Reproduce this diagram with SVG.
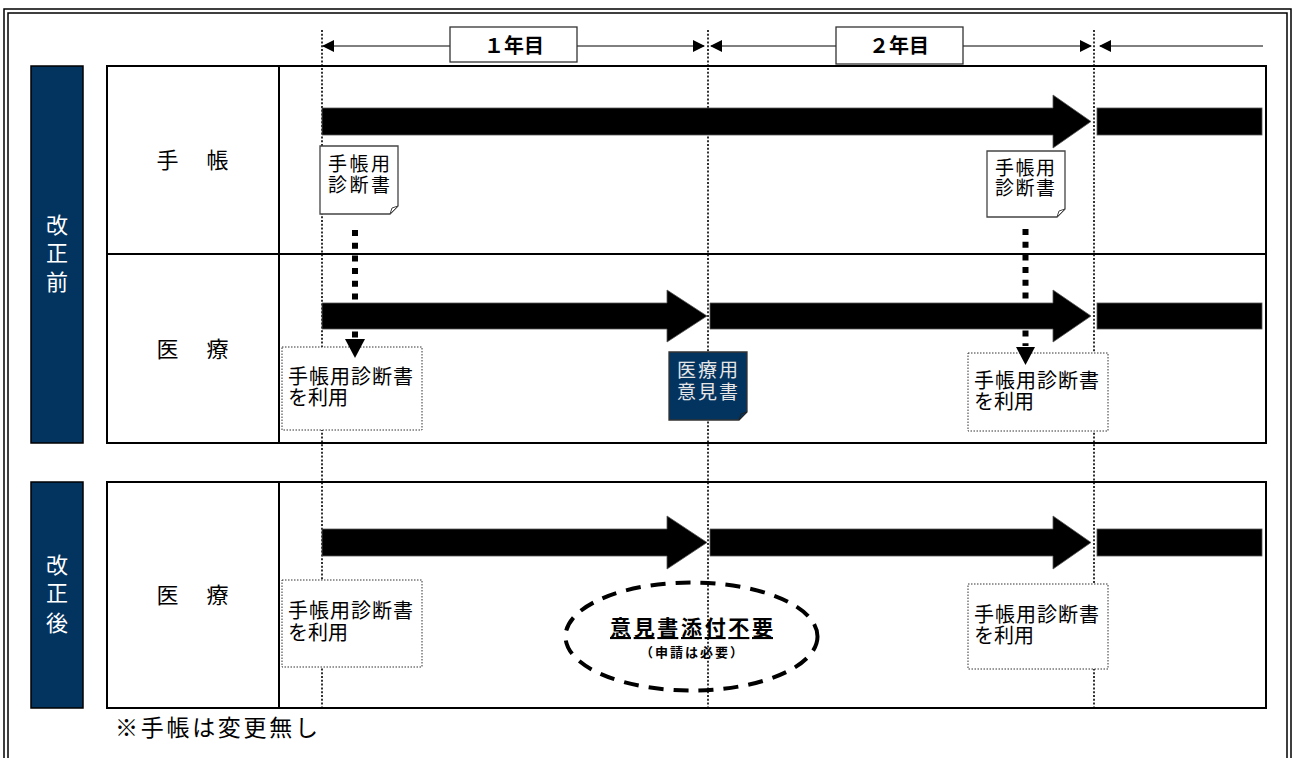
<svg xmlns="http://www.w3.org/2000/svg" width="1293" height="758" viewBox="0 0 1293 758">
<style>
text{font-family:"Noto Sans CJK JP","Noto Sans",sans-serif;fill:#000}
.frame{fill:none;stroke:#000;stroke-width:1.5}
.tbl{fill:#fff;stroke:#000;stroke-width:2}
.div{stroke:#000;stroke-width:2}
.navy{fill:#03335f;stroke:#000;stroke-width:1.5}
.vlab{font-size:22px;fill:#fff}
.rlab{font-size:22px;letter-spacing:3px}
.yr{fill:#fff;stroke:#333;stroke-width:1.3}
.yrt{font-size:20px;font-weight:bold}
.tl{stroke:#000;stroke-width:1}
.vdot{stroke:#000;stroke-width:1.6;stroke-dasharray:2 1.8;fill:none}
.bar{fill:#000;stroke:#555;stroke-width:0.8}
.doc{fill:#fff;stroke:#444;stroke-width:1.3}
.ddoc{fill:#03335f;stroke:#333;stroke-width:1.3}
.dt{font-size:19px}
.dtw{font-size:19px;fill:#e6e6e6}
.dbox{fill:#fff;stroke:#333;stroke-width:1;stroke-dasharray:1.5 1.5}
.bt{font-size:20px}
.sq{stroke:#000;stroke-width:6;stroke-dasharray:6 6.7;fill:none}
.ell{fill:none;stroke:#000;stroke-width:4;stroke-dasharray:15 10}
</style>
<defs>
<marker id="ah" viewBox="0 0 12 12" refX="11" refY="6" markerWidth="12" markerHeight="12" markerUnits="userSpaceOnUse" orient="auto"><path d="M0,0 L12,6 L0,12 Z" fill="#000"/></marker>
</defs>

<g id="frame">
<path class="frame" d="M4,760 V9 H1291 V760"/>
<path class="frame" d="M8,760 V13 H1287 V760"/>
</g>

<g id="section-before">
<rect class="navy" x="31" y="66" width="52" height="377"/>
<text class="vlab" text-anchor="middle"><tspan x="57" y="233">改</tspan><tspan x="57" y="261">正</tspan><tspan x="57" y="290">前</tspan></text>
<rect class="tbl" x="107" y="66" width="1159" height="377"/>
<line class="div" x1="279" y1="66" x2="279" y2="443"/>
<line class="div" x1="107" y1="254" x2="1266" y2="254"/>
<text class="rlab" x="194" y="168" text-anchor="middle">手　帳</text>
<text class="rlab" x="194" y="357" text-anchor="middle">医　療</text>
</g>

<g id="section-after">
<rect class="navy" x="31" y="482" width="52" height="226"/>
<text class="vlab" text-anchor="middle"><tspan x="57" y="573">改</tspan><tspan x="57" y="601">正</tspan><tspan x="57" y="631">後</tspan></text>
<rect class="tbl" x="107" y="482" width="1159" height="226"/>
<line class="div" x1="279" y1="482" x2="279" y2="708"/>
<text class="rlab" x="194" y="603" text-anchor="middle">医　療</text>
</g>

<g id="note-nochange">
<text x="115" y="736" font-size="23" textLength="203" lengthAdjust="spacing">※手帳は変更無し</text>
</g>

<g id="no-opinion">
<ellipse class="ell" cx="691.5" cy="636.5" rx="126" ry="54"/>
<text x="691.5" y="635" font-size="21" font-weight="bold" text-anchor="middle" text-decoration="underline" textLength="163" lengthAdjust="spacing">意見書添付不要</text>
<text x="691.5" y="657" font-size="13" font-weight="bold" text-anchor="middle" textLength="103" lengthAdjust="spacing">（申請は必要）</text>
</g>

<g id="connectors">
<g id="year-lines">
<line class="vdot" x1="322" y1="30" x2="322" y2="708"/>
<line class="vdot" x1="708" y1="30" x2="708" y2="708"/>
<line class="vdot" x1="1094" y1="30" x2="1094" y2="708"/>
</g>
<g id="timeline">
<line class="tl" x1="450" y1="46" x2="323" y2="46" marker-end="url(#ah)"/>
<line class="tl" x1="577" y1="46" x2="704" y2="46" marker-end="url(#ah)"/>
<line class="tl" x1="836" y1="46" x2="711" y2="46" marker-end="url(#ah)"/>
<line class="tl" x1="963" y1="46" x2="1091" y2="46" marker-end="url(#ah)"/>
<line class="tl" x1="1263" y1="46" x2="1100" y2="46" marker-end="url(#ah)"/>
</g>
<g id="bars">
<path class="bar" d="M322,108 H1053 V95 L1091,121.5 L1053,148 V135 H322 Z"/>
<rect class="bar" x="1097" y="108" width="165" height="27"/>
<path class="bar" d="M322,303 H667 V290 L707,316 L667,342 V329 H322 Z"/>
<path class="bar" d="M710,303 H1053 V290 L1091,316 L1053,342 V329 H710 Z"/>
<rect class="bar" x="1097" y="303" width="165" height="26"/>
<path class="bar" d="M322,529 H667 V516 L707,542.5 L667,569 V556 H322 Z"/>
<path class="bar" d="M710,529 H1053 V516 L1091,542.5 L1053,569 V556 H710 Z"/>
<rect class="bar" x="1097" y="529" width="165" height="27"/>
</g>
</g>

<g id="year1">
<rect class="yr" x="450" y="27" width="127" height="35"/>
<text class="yrt" x="514" y="53" text-anchor="middle">１年目</text>
</g>
<g id="year2">
<rect class="yr" x="836" y="27" width="127" height="37"/>
<text class="yrt" x="899" y="53" text-anchor="middle">２年目</text>
</g>

<g id="cert1">
<path class="doc" d="M320,146 H398 V206 L390,214 H320 Z"/>
<path d="M398,206 L390,214 L392,208 Z" fill="#fff" stroke="#444" stroke-width="1"/>
<text class="dt"><tspan x="328" y="171" textLength="62" lengthAdjust="spacing">手帳用</tspan><tspan x="328" y="192" textLength="62" lengthAdjust="spacing">診断書</tspan></text>
</g>
<g id="cert2">
<path class="doc" d="M987,151 H1065 V209 L1057,217 H987 Z"/>
<path d="M1065,209 L1057,217 L1059,211 Z" fill="#fff" stroke="#444" stroke-width="1"/>
<text class="dt"><tspan x="995" y="175" textLength="60" lengthAdjust="spacing">手帳用</tspan><tspan x="995" y="195" textLength="60" lengthAdjust="spacing">診断書</tspan></text>
</g>
<g id="opinion">
<path class="ddoc" d="M669,352 H747 V412 L739,420 H669 Z"/>
<path d="M747,412 L739,420 L741,414 Z" fill="#03335f" stroke="#222" stroke-width="1"/>
<text class="dtw"><tspan x="677" y="377" textLength="61" lengthAdjust="spacing">医療用</tspan><tspan x="677" y="399" textLength="61" lengthAdjust="spacing">意見書</tspan></text>
</g>

<g id="use1">
<rect class="dbox" x="282" y="347" width="140" height="83"/>
<text class="bt"><tspan x="288" y="384" textLength="125" lengthAdjust="spacing">手帳用診断書</tspan><tspan x="288" y="405">を利用</tspan></text>
</g>
<g id="use2">
<rect class="dbox" x="968" y="353" width="140" height="78"/>
<text class="bt"><tspan x="974" y="388" textLength="125" lengthAdjust="spacing">手帳用診断書</tspan><tspan x="974" y="409">を利用</tspan></text>
</g>
<g id="use3">
<rect class="dbox" x="282" y="580" width="140" height="87"/>
<text class="bt"><tspan x="288" y="618" textLength="125" lengthAdjust="spacing">手帳用診断書</tspan><tspan x="288" y="640">を利用</tspan></text>
</g>
<g id="use4">
<rect class="dbox" x="968" y="584" width="140" height="85"/>
<text class="bt"><tspan x="974" y="622" textLength="125" lengthAdjust="spacing">手帳用診断書</tspan><tspan x="974" y="643">を利用</tspan></text>
</g>

<g id="cert-arrows">
<line class="sq" x1="355" y1="230" x2="355" y2="338"/>
<path d="M345,339 H365 L355,358 Z" fill="#000"/>
<line class="sq" x1="1025.5" y1="229" x2="1025.5" y2="346"/>
<path d="M1016,347 H1035 L1025.5,365 Z" fill="#000"/>
</g>
</svg>
